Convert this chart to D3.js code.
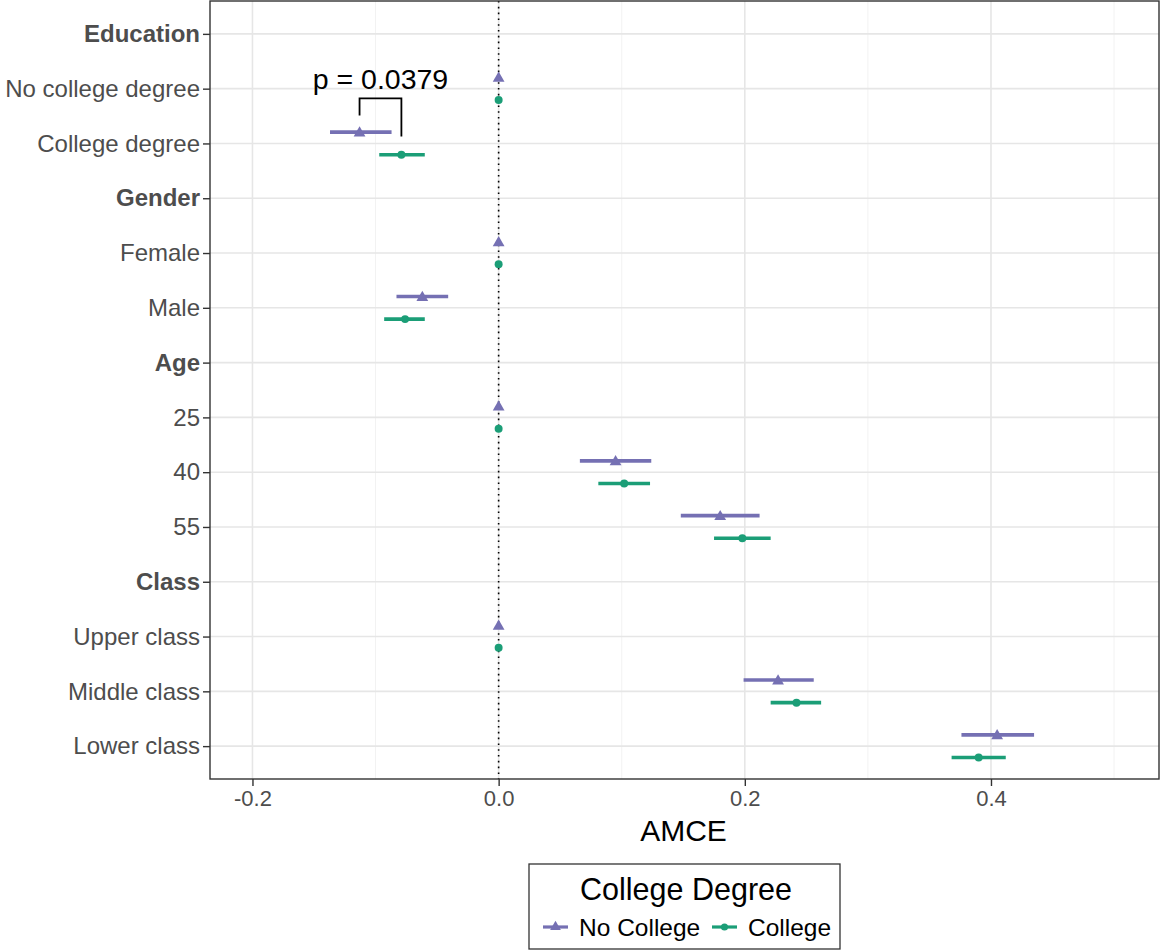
<!DOCTYPE html>
<html>
<head>
<meta charset="utf-8">
<script src="https://cdn.jsdelivr.net/npm/d3@7"></script>
<style>
  body { margin: 0; background: #fff; }
  svg { display: block; font-family: "Liberation Sans", Arial, sans-serif; }
</style>
</head>
<body>
<svg id="chart" width="1161" height="951"></svg>
<script>
// Attribute levels (top to bottom); headers are drawn in bold with no estimates
const levels = ["Education", "No college degree", "College degree",
  "Gender", "Female", "Male",
  "Age", "25", "40", "55",
  "Class", "Upper class", "Middle class", "Lower class"];
const headers = ["Education", "Gender", "Age", "Class"];

// AMCE estimates with 95% intervals, respondents without a college degree
const noCollegeLevel = ["No college degree", "College degree", "Female", "Male", "25", "40", "55", "Upper class", "Middle class", "Lower class"];
const noCollegeEst   = [0, -0.113, 0, -0.062, 0, 0.095, 0.180, 0, 0.227, 0.405];
const noCollegeLo    = [0, -0.137, 0, -0.083, 0, 0.066, 0.148, 0, 0.199, 0.376];
const noCollegeHi    = [0, -0.087, 0, -0.041, 0, 0.124, 0.212, 0, 0.256, 0.435];

// AMCE estimates with 95% intervals, respondents with a college degree
const collegeLevel = ["No college degree", "College degree", "Female", "Male", "25", "40", "55", "Upper class", "Middle class", "Lower class"];
const collegeEst   = [0, -0.079, 0, -0.076, 0, 0.102, 0.198, 0, 0.242, 0.390];
const collegeLo    = [0, -0.097, 0, -0.093, 0, 0.081, 0.175, 0, 0.221, 0.368];
const collegeHi    = [0, -0.060, 0, -0.060, 0, 0.123, 0.221, 0, 0.262, 0.412];

const xTicks = [-0.2, 0.0, 0.2, 0.4];
const xTickLabels = ["-0.2", "0.0", "0.2", "0.4"];
const xMinor = [-0.1, 0.1, 0.3, 0.5];

const groupNames = ["No College", "College"];
const groupColors = ["#7570B3", "#1B9E77"];

// p-value annotation comparing the two groups on "College degree"
const pLevel = "College degree";
const pText = "p = 0.0379";

const svg = d3.select("#chart");
const panel = { left: 210, right: 1159, top: 1, bottom: 779 };

const x = d3.scaleLinear().domain([-0.2345, 0.5365]).range([panel.left, panel.right]);
const y = d3.scalePoint().domain(levels).range([panel.top, panel.bottom]).padding(0.6);
const dodge = 11.3;

// Grid
const grid = svg.append("g");
grid.selectAll(".minor").data(xMinor).join("line")
  .attr("x1", d => x(d)).attr("x2", d => x(d))
  .attr("y1", panel.top).attr("y2", panel.bottom)
  .attr("stroke", "#F2F2F2").attr("stroke-width", 1);
grid.selectAll(".major").data(xTicks).join("line")
  .attr("x1", d => x(d)).attr("x2", d => x(d))
  .attr("y1", panel.top).attr("y2", panel.bottom)
  .attr("stroke", "#E6E6E6").attr("stroke-width", 1.6);
grid.selectAll(".hline").data(levels).join("line")
  .attr("x1", panel.left).attr("x2", panel.right)
  .attr("y1", d => y(d)).attr("y2", d => y(d))
  .attr("stroke", "#E6E6E6").attr("stroke-width", 1.6);

// Zero reference line
svg.append("line")
  .attr("x1", x(0)).attr("x2", x(0))
  .attr("y1", panel.top).attr("y2", panel.bottom)
  .attr("stroke", "#000").attr("stroke-width", 1.6)
  .attr("stroke-dasharray", "1.6,4.2");

// Estimates
const series = [
  { lv: noCollegeLevel, est: noCollegeEst, lo: noCollegeLo, hi: noCollegeHi, off: -dodge, color: groupColors[0], shape: d3.symbolTriangle },
  { lv: collegeLevel, est: collegeEst, lo: collegeLo, hi: collegeHi, off: dodge, color: groupColors[1], shape: d3.symbolCircle }
];
series.forEach(s => {
  const rows = s.lv.map((l, i) => ({ l, est: s.est[i], lo: s.lo[i], hi: s.hi[i] }));
  const g = svg.append("g");
  g.selectAll("line").data(rows.filter(r => r.hi > r.lo)).join("line")
    .attr("x1", r => x(r.lo)).attr("x2", r => x(r.hi))
    .attr("y1", r => y(r.l) + s.off).attr("y2", r => y(r.l) + s.off)
    .attr("stroke", s.color).attr("stroke-width", 3.6);
  g.selectAll("path").data(rows).join("path")
    .attr("transform", r => `translate(${x(r.est)},${y(r.l) + s.off + (s.shape === d3.symbolTriangle ? 1 : 0)})`)
    .attr("d", d3.symbol().type(s.shape).size(s.shape === d3.symbolTriangle ? 60 : 50))
    .attr("fill", s.color);
});

// Panel border
svg.append("rect")
  .attr("x", panel.left).attr("y", panel.top)
  .attr("width", panel.right - panel.left).attr("height", panel.bottom - panel.top)
  .attr("fill", "none").attr("stroke", "#333").attr("stroke-width", 1.4);

// Y axis
const yAxis = svg.append("g").attr("transform", `translate(${panel.left},0)`)
  .call(d3.axisLeft(y).tickSize(7).tickPadding(3));
yAxis.select(".domain").remove();
yAxis.selectAll(".tick line").attr("stroke", "#333").attr("stroke-width", 1.4);
yAxis.selectAll(".tick text")
  .attr("fill", "#4D4D4D").attr("font-size", 24)
  .attr("font-family", "'Liberation Sans', Arial, sans-serif")
  .attr("font-weight", d => headers.includes(d) ? "bold" : "normal");

// X axis
const xAxis = svg.append("g").attr("transform", `translate(0,${panel.bottom})`)
  .call(d3.axisBottom(x).tickValues(xTicks).tickFormat((d, i) => xTickLabels[i]).tickSize(7).tickPadding(4));
xAxis.select(".domain").remove();
xAxis.selectAll(".tick line").attr("stroke", "#333").attr("stroke-width", 1.4);
xAxis.selectAll(".tick text")
  .attr("fill", "#4D4D4D").attr("font-size", 22)
  .attr("font-family", "'Liberation Sans', Arial, sans-serif");

svg.append("text").attr("x", (panel.left + panel.right) / 2 - 1).attr("y", 841)
  .attr("text-anchor", "middle").attr("font-size", 30).attr("fill", "#000").text("AMCE");

// p-value bracket
const iNC = noCollegeLevel.indexOf(pLevel), iC = collegeLevel.indexOf(pLevel);
const bx1 = x(noCollegeEst[iNC]), bx2 = x(collegeEst[iC]);
const by = y(pLevel);
svg.append("path")
  .attr("d", `M${bx1},${by - 28} V${by - 45} H${bx2} V${by - 7}`)
  .attr("fill", "none").attr("stroke", "#000").attr("stroke-width", 1.8);
svg.append("text").attr("x", (bx1 + bx2) / 2).attr("y", by - 54)
  .attr("text-anchor", "middle").attr("font-size", 28.5).attr("fill", "#000").text(pText);

// Legend
const lg = svg.append("g");
lg.append("rect").attr("x", 529).attr("y", 864).attr("width", 311).attr("height", 85)
  .attr("fill", "#fff").attr("stroke", "#333").attr("stroke-width", 1.3);
lg.append("text").attr("x", 686).attr("y", 900).attr("text-anchor", "middle")
  .attr("font-size", 30.5).attr("fill", "#000").text("College Degree");
const keyX = [543, 712], labX = [579, 748];
groupNames.forEach((name, i) => {
  lg.append("line").attr("x1", keyX[i]).attr("x2", keyX[i] + 25)
    .attr("y1", 927).attr("y2", 927).attr("stroke", groupColors[i]).attr("stroke-width", 3.2);
  lg.append("path")
    .attr("transform", `translate(${keyX[i] + 12.5},927)`)
    .attr("d", d3.symbol().type(i === 0 ? d3.symbolTriangle : d3.symbolCircle).size(i === 0 ? 50 : 40))
    .attr("fill", groupColors[i]);
  lg.append("text").attr("x", labX[i]).attr("y", 936)
    .attr("font-size", 24.5).attr("fill", "#000").text(name);
});
</script>
</body>
</html>
